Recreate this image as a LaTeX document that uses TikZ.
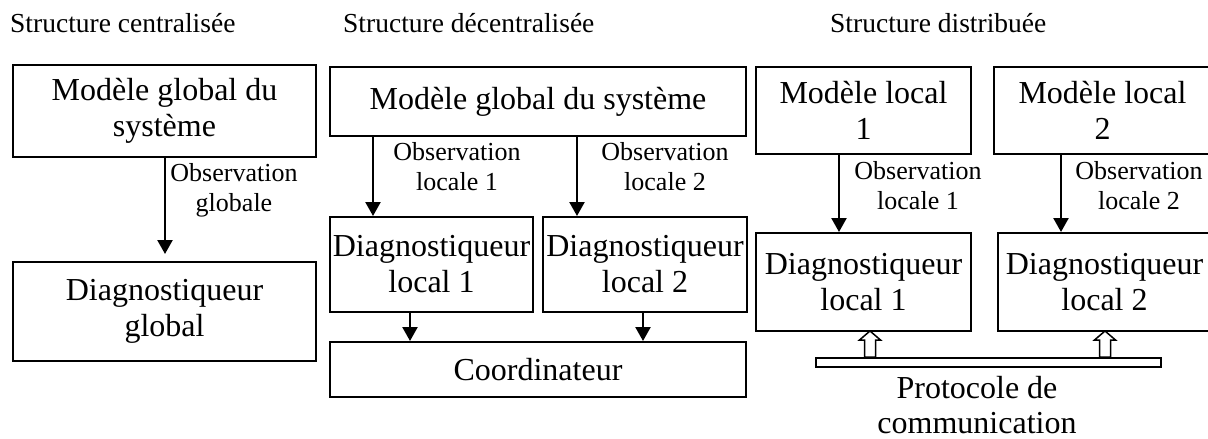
\documentclass[tikz,border=0pt]{standalone}
\usepackage{fontspec}
\setmainfont{Liberation Serif}
\usetikzlibrary{arrows.meta,calc}
\tikzset{
  boxnode/.style={draw, line width=2pt, inner sep=0pt, align=center,
    font=\fontsize{32}{36}\selectfont},
  lbl/.style={inner sep=0pt, align=center, font=\fontsize{26}{30}\selectfont},
  ttl/.style={inner sep=0pt, anchor=base west, font=\fontsize{27.5}{30}\selectfont},
  arr/.style={line width=2.4pt, -{Triangle[width=15pt,length=14pt]}},
  hollow/.style={draw, line width=1.5pt, fill=white, line join=miter},
}
\begin{document}
\begin{tikzpicture}[x=1pt,y=-1pt]
\useasboundingbox (0,0) rectangle (1208,439);
\clip (0,0) rectangle (1208,439);
% titles
\node[ttl] (t1) at (10,32) {Structure centralisée};
\node[ttl] (t2) at (343,32) {Structure décentralisée};
\node[ttl] (t3) at (830,32) {Structure distribuée};
% centralised
\node[boxnode, minimum width=303pt, minimum height=92pt] (A1) at (164.5,111) {Modèle global du\\système};
\node[boxnode, minimum width=303pt, minimum height=99pt] (A2) at (164.5,311.5) {Diagnostiqueur\\global};
\draw[arr] (165,0 |- A1.south) -- ([yshift=7pt]165,0 |- A2.north);
\node[lbl] (la) at (234,190) {Observation\\globale};
% decentralised
\node[boxnode, minimum width=416pt, minimum height=69pt] (B0) at (538,101.5) {Modèle global du système};
\node[boxnode, minimum width=203pt, minimum height=95pt] (B1) at (431.5,264.5) {Diagnostiqueur\\local 1};
\node[boxnode, minimum width=204pt, minimum height=95pt] (B2) at (645,264.5) {Diagnostiqueur\\local 2};
\node[boxnode, minimum width=416pt, minimum height=55pt] (B3) at (538,369.5) {Coordinateur};
\draw[arr] (373,0 |- B0.south) -- (373,0 |- B1.north);
\draw[arr] (577,0 |- B0.south) -- (577,0 |- B2.north);
\draw[arr] (410,0 |- B1.south) -- (410,0 |- B3.north);
\draw[arr] (643,0 |- B2.south) -- (643,0 |- B3.north);
\node[lbl] (lb1) at (457,167) {Observation\\locale 1};
\node[lbl] (lb2) at (665,167) {Observation\\locale 2};
% distributed
\node[boxnode, minimum width=215pt, minimum height=87pt] (C1) at (863.5,110.5) {Modèle local\\1};
\node[boxnode, minimum width=217pt, minimum height=87pt] (C2) at (1102.5,110.5) {Modèle local\\2};
\node[boxnode, minimum width=215pt, minimum height=98pt] (D1) at (863.5,282) {Diagnostiqueur\\local 1};
\node[boxnode, minimum width=213pt, minimum height=98pt] (D2) at (1104.5,282) {Diagnostiqueur\\local 2};
\draw[arr] (839,0 |- C1.south) -- (839,0 |- D1.north);
\draw[arr] (1061,0 |- C2.south) -- (1061,0 |- D2.north);
\node[lbl] (lc1) at (918,186) {Observation\\locale 1};
\node[lbl] (lc2) at (1139,186) {Observation\\locale 2};
\node[draw, line width=2pt, inner sep=0pt, minimum width=345pt, minimum height=9pt] (bar) at (988.5,362.5) {};
\draw[hollow] (870,0 |- bar.north) -- ++(-5.5,0) -- ++(0,-17) -- ++(-5,0) -- ++(10.5,-9) -- ++(10.5,9) -- ++(-5,0) -- ++(0,17) -- cycle;
\draw[hollow] (1105,0 |- bar.north) -- ++(-5.5,0) -- ++(0,-17) -- ++(-5,0) -- ++(10.5,-9) -- ++(10.5,9) -- ++(-5,0) -- ++(0,17) -- cycle;
\node[inner sep=0pt, align=center, font=\fontsize{32}{35}\selectfont] (proto) at (977,405) {Protocole de\\communication};
\end{tikzpicture}
\end{document}
